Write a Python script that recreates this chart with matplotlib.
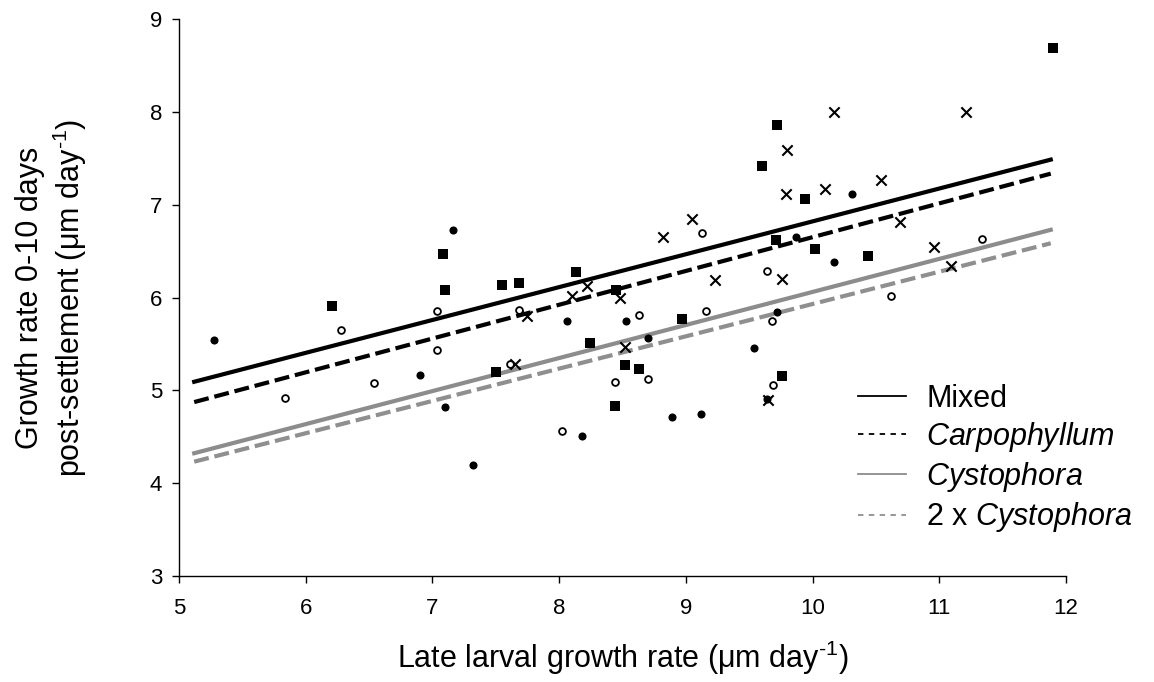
import numpy as np
import matplotlib.pyplot as plt
from matplotlib.lines import Line2D

plt.rcParams['font.family'] = ['Liberation Sans', 'DejaVu Sans']
plt.rcParams['mathtext.fontset'] = 'custom'
plt.rcParams['mathtext.rm'] = 'Liberation Sans'
plt.rcParams['mathtext.it'] = 'Liberation Sans:italic'

# points (x = late larval growth, y = growth 0-10 days)
mixed_x = [6.21, 7.08, 7.10, 7.55, 7.68, 7.50, 8.13, 8.45, 8.24, 8.52, 8.63,
           8.44, 8.97, 9.72, 9.60, 9.94, 9.71, 10.02, 10.44, 9.76, 11.90]
mixed_y = [5.91, 6.47, 6.08, 6.13, 6.16, 5.20, 6.28, 6.08, 5.51, 5.27, 5.23,
           4.83, 5.77, 7.86, 7.42, 7.06, 6.62, 6.52, 6.45, 5.15, 8.69]

carp_x = [7.75, 7.65, 8.22, 8.10, 8.48, 8.52, 8.82, 9.05, 9.23, 10.17,
          11.21, 9.80, 9.79, 10.10, 10.54, 10.69, 10.96, 11.09, 9.76, 9.65]
carp_y = [5.80, 5.28, 6.12, 6.02, 5.99, 5.47, 6.65, 6.85, 6.19, 8.00,
          8.00, 7.59, 7.12, 7.17, 7.27, 6.81, 6.54, 6.34, 6.20, 4.90]

cyst_x = [5.28, 6.90, 7.10, 7.16, 7.32, 8.06, 8.53, 8.70, 8.18, 8.89, 9.12,
          10.31, 9.87, 10.17, 9.72, 9.54, 9.64]
cyst_y = [5.54, 5.17, 4.82, 6.73, 4.20, 5.75, 5.75, 5.56, 4.51, 4.71, 4.75,
          7.11, 6.65, 6.38, 5.84, 5.46, 4.91]

cyst2_x = [6.28, 7.04, 7.04, 5.84, 6.54, 7.68, 7.61, 8.63, 8.44, 8.70, 8.02,
           9.13, 9.16, 9.64, 9.68, 10.62, 9.69, 11.34]
cyst2_y = [5.65, 5.86, 5.43, 4.92, 5.08, 5.87, 5.28, 5.81, 5.09, 5.12, 4.56,
           6.70, 5.86, 6.29, 5.75, 6.02, 5.06, 6.63]

# fitted lines: slope, intercept, x range
labels = ['Mixed', '$\\it{Carpophyllum}$', '$\\it{Cystophora}$', '2 x $\\it{Cystophora}$']
slopes = [0.354, 0.364, 0.356, 0.348]
intercepts = [3.28, 3.01, 2.50, 2.45]
fit_range = [5.12, 11.88]

fig = plt.figure(figsize=(11.54, 6.82), dpi=100)
ax = fig.add_axes([0.1551, 0.1554, 0.9237 - 0.1551, 0.9721 - 0.1554])

ax.scatter(mixed_x, mixed_y, marker='s', s=52, c='black', linewidths=0, zorder=3)
ax.scatter(carp_x, carp_y, marker='x', s=55, c='black', linewidths=1.5, zorder=3)
ax.scatter(cyst_x, cyst_y, marker='o', s=34, c='black', linewidths=0, zorder=3)
ax.scatter(cyst2_x, cyst2_y, marker='o', s=24, facecolors='white',
           edgecolors='black', linewidths=1.3, zorder=3)

colors = ['black', 'black', '0.55', '0.56']
styles = ['-', '--', '-', '--']
xx = np.array(fit_range)
handles = []
for m, b, col, ls, lab in zip(slopes, intercepts, colors, styles, labels):
    ln, = ax.plot(xx, m * xx + b, color=col, lw=3.0, ls=ls, zorder=2)
    if ls == '--':
        ln.set_dashes((3.6, 1.4))
    h = Line2D([], [], color=col, lw=1.3, ls=ls, label=lab)
    if ls == '--':
        h.set_dashes((3, 3))
    handles.append(h)

ax.set_xlim(5, 12)
ax.set_ylim(3, 9)
ax.set_xticks(range(5, 13))
ax.set_yticks(range(3, 10))
for s in ['top', 'right']:
    ax.spines[s].set_visible(False)
for s in ['left', 'bottom']:
    ax.spines[s].set_linewidth(1.0)
ax.tick_params(axis='both', direction='out', length=5, width=1.0, labelsize=16)
ax.tick_params(axis='x', pad=11)
ax.tick_params(axis='y', pad=7)

ax.set_xlabel('Late larval growth rate (\u03bcm day$^{\\text{-1}}$)', fontsize=22, labelpad=14)
ax.set_ylabel('Growth rate 0-10 days\npost-settlement (\u03bcm day$^{\\text{-1}}$)',
              fontsize=22, labelpad=44)

ax.legend(handles=handles, loc='lower left', bbox_to_anchor=(0.765, 0.075),
          frameon=False, fontsize=22, handlelength=1.6, handletextpad=0.65,
          labelspacing=0.2, borderaxespad=0, borderpad=0)

fig.savefig('out.png', dpi=100)
